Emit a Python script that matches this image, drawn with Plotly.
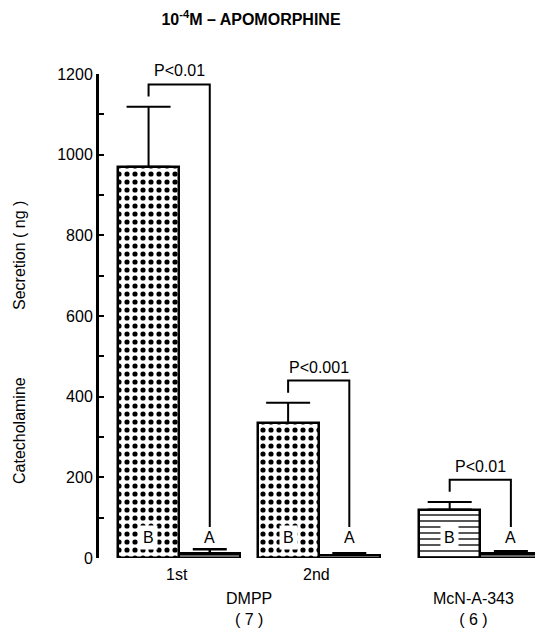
import plotly.graph_objects as go

# ---- data ----
session_labels = ["1st", "2nd", ""]
drug_labels = ["DMPP<br>( 7 )", "McN-A-343<br>( 6 )"]
b_values = [970, 335, 120]      # before (B)
b_errors = [149, 50, 19]
a_values = [12, 8, 12]          # after apomorphine (A)
a_errors = [10, 4, 5]
p_labels = ["P<0.01", "P<0.001", "P<0.01"]
y_ticks = [0, 200, 400, 600, 800, 1000, 1200]

# ---- layout constants ----
group_pos = [1.31, 3.59, 6.23]   # group centres on a linear x axis (bar width = 1)
bar_w = 1.0
b_x = [g - bar_w / 2 for g in group_pos]
a_x = [g + bar_w / 2 for g in group_pos]
FONT = "Liberation Sans, Arial, Helvetica, sans-serif"
FS = 16

# page body has an 8px margin -> shift everything
OFF = 8
L, T = 99 - OFF, 74 - OFF
PLOT_H = 484
B = 628 - (T + PLOT_H)
PLOT_W = 442
R = 543 - (L + PLOT_W)

fig = go.Figure()

fig.add_trace(go.Bar(
    x=b_x, y=b_values, width=bar_w,
    marker=dict(color="white", line=dict(color="black", width=2.5),
                pattern=dict(shape=[".", ".", "-"], fgcolor="black", bgcolor="white",
                             size=[8, 8, 6], solidity=[0.33, 0.33, 0.22],
                             fillmode="overlay", fgopacity=1)),
    error_y=dict(type="data", array=b_errors, arrayminus=[0] * 3, symmetric=False,
                 color="black", thickness=2, width=22),
    showlegend=False,
))
fig.add_trace(go.Bar(
    x=a_x, y=a_values, width=bar_w,
    marker=dict(color="black", line=dict(color="black", width=2),
                pattern=dict(shape="-", fgcolor="white", bgcolor="black",
                             size=4, solidity=0.25, fillmode="overlay", fgopacity=0.8)),
    error_y=dict(type="data", array=a_errors, arrayminus=[0] * 3, symmetric=False,
                 color="black", thickness=2.5, width=17),
    showlegend=False,
))

shapes = []
annotations = []
label_level = 52
for i in range(3):
    top_b = b_values[i] + b_errors[i]
    leg_bottom = top_b + 25
    level = top_b + 55
    shapes.append(dict(
        type="path", xref="x", yref="y",
        path=f"M {b_x[i]},{leg_bottom} L {b_x[i]},{level} L {a_x[i]},{level} L {a_x[i]},{label_level + 25}",
        line=dict(color="black", width=2),
    ))
    annotations.append(dict(x=group_pos[i], y=level, xref="x", yref="y", text=p_labels[i],
                            showarrow=False, yanchor="bottom", yshift=3,
                            font=dict(size=FS, color="black", family=FONT)))
    annotations.append(dict(x=b_x[i], y=label_level, xref="x", yref="y", text="B",
                            showarrow=False, bgcolor="white", borderpad=3,
                            font=dict(size=FS, color="black", family=FONT)))
    annotations.append(dict(x=a_x[i], y=label_level, xref="x", yref="y", text="A",
                            showarrow=False, bgcolor="white", borderpad=1,
                            font=dict(size=FS, color="black", family=FONT)))
    if session_labels[i]:
        annotations.append(dict(x=group_pos[i] - 0.04, y=0, xref="x", yref="paper",
                                yanchor="middle", yshift=-16,
                                text=session_labels[i], showarrow=False,
                                font=dict(size=FS, color="black", family=FONT)))

annotations.append(dict(x=(group_pos[0] + group_pos[1]) / 2, y=0, xref="x", yref="paper",
                        yanchor="middle", yshift=-51,
                        text=drug_labels[0], showarrow=False,
                        font=dict(size=FS, color="black", family=FONT)))
annotations.append(dict(x=group_pos[2] - 0.11, y=0, xref="x", yref="paper",
                        yanchor="middle", yshift=-51,
                        text=drug_labels[1], showarrow=False,
                        font=dict(size=FS, color="black", family=FONT)))

# y axis title in two parts
annotations.append(dict(x=0, y=(558 - 256) / PLOT_H, xref="paper", yref="paper",
                        xshift=-79, xanchor="center", yanchor="middle", text="Secretion ( ng )",
                        showarrow=False, textangle=-90,
                        font=dict(size=FS, color="black", family=FONT)))
annotations.append(dict(x=0, y=(558 - 431) / PLOT_H, xref="paper", yref="paper",
                        xshift=-79, xanchor="center", yanchor="middle",
                        text="Catecholamine", showarrow=False, textangle=-90,
                        font=dict(size=FS, color="black", family=FONT)))

fig.update_layout(
    width=543, height=628,
    margin=dict(l=L, r=R, t=T, b=B, autoexpand=False),
    paper_bgcolor="white", plot_bgcolor="white",
    title=dict(text="10<sup>-4</sup>M \u2013 APOMORPHINE", x=(251 - OFF) / 543, xanchor="center",
               y=1 - (19 - OFF) / 628, yanchor="middle", xref="container", yref="container",
               font=dict(size=FS, color="black", family=FONT, weight="bold")),
    shapes=shapes, annotations=annotations,
    bargap=0,
)
fig.update_xaxes(range=[0, PLOT_W / 61.2], visible=False, showgrid=False, zeroline=False)
fig.update_yaxes(range=[0, 1200], tickvals=y_ticks, showline=True, linecolor="black",
                 linewidth=3, ticks="inside", ticklen=5, tickwidth=2, tickcolor="black",
                 minor=dict(dtick=100, ticks="inside", ticklen=5, tickwidth=2, tickcolor="black"),
                 showgrid=False, zeroline=False,
                 tickfont=dict(size=FS, color="black", family=FONT))

fig.write_html("out.html")
